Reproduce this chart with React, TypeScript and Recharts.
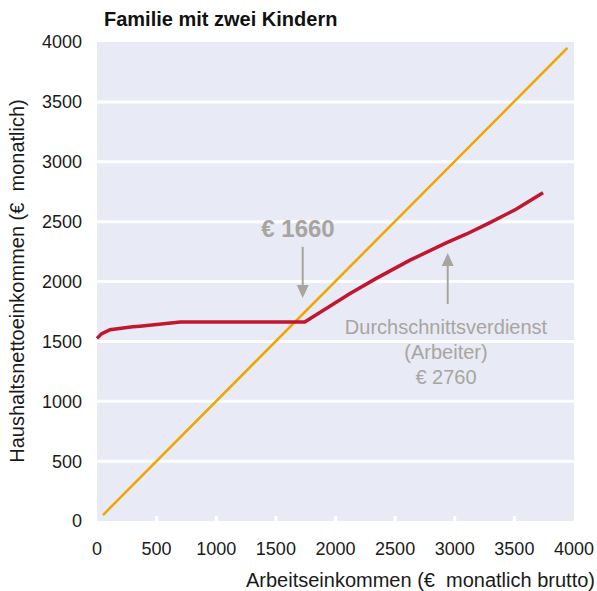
import { ComposedChart, Line, XAxis, YAxis, CartesianGrid, ReferenceLine } from 'recharts';

// Haushaltsnettoeinkommen over Arbeitseinkommen
const netIncome = [
  { x: 0, y: 1525 },
  { x: 40, y: 1565 },
  { x: 110, y: 1598 },
  { x: 220, y: 1612 },
  { x: 300, y: 1622 },
  { x: 360, y: 1627 },
  { x: 500, y: 1640 },
  { x: 700, y: 1662 },
  { x: 1742, y: 1662 },
  { x: 2119, y: 1898 },
  { x: 2342, y: 2026 },
  { x: 2621, y: 2176 },
  { x: 2928, y: 2323 },
  { x: 3095, y: 2395 },
  { x: 3291, y: 2490 },
  { x: 3514, y: 2603 },
  { x: 3740, y: 2742 },
];

// 45-degree reference line (net = gross)
const parity = [
  { x: 50, y: 50 },
  { x: 3945, y: 3950 },
];

const xTicks = [0, 500, 1000, 1500, 2000, 2500, 3000, 3500, 4000];
const yTicks = [0, 500, 1000, 1500, 2000, 2500, 3000, 3500, 4000];
const gridValues = [500, 1000, 1500, 2000, 2500, 3000, 3500];

const FONT = '"Liberation Sans", Arial, sans-serif';
const GRAY = '#a8a5a0';

const XTick = (props: any) => {
  const { x, y, payload } = props;
  const v = payload.value;
  return (
    <g>
      {v > 0 && v < 4000 && (
        <line x1={x} x2={x} y1={y} y2={y - 5} stroke="#fff" strokeWidth={3} />
      )}
      <text x={x} y={y + 34} textAnchor="middle" fontSize={18} fill="#1a1a1a" fontFamily={FONT}>
        {v}
      </text>
    </g>
  );
};

const Arrow = (props: any) => {
  const { x1, y1, x2, y2 } = props;
  const dir = y2 > y1 ? 1 : -1;
  return (
    <g>
      <line x1={x1} y1={y1} x2={x2} y2={y2 - dir * 10} stroke={GRAY} strokeWidth={2} />
      <polygon points={`${x2 - 6},${y2 - dir * 13} ${x2 + 6},${y2 - dir * 13} ${x2},${y2}`} fill={GRAY} />
    </g>
  );
};

export default function App() {
  return (
    <div style={{ position: 'absolute', left: 0, top: 0, width: 597, height: 591, fontFamily: FONT }}>
      <ComposedChart width={597} height={591} margin={{ top: 42, right: 23, bottom: 40, left: 0 }}>
        <CartesianGrid
          horizontal
          vertical={false}
          fill="#e8eaf5"
          stroke="#ffffff"
          strokeWidth={3}
          horizontalValues={gridValues}
        />
        <XAxis
          type="number"
          dataKey="x"
          domain={[0, 4000]}
          ticks={xTicks}
          axisLine={false}
          tickLine={false}
          tickSize={0}
          tickMargin={0}
          height={30}
          tick={<XTick />}
          interval={0}
        />
        <YAxis
          type="number"
          dataKey="y"
          domain={[0, 4000]}
          ticks={yTicks}
          axisLine={false}
          tickLine={false}
          tickSize={0}
          tickMargin={15}
          width={97}
          interval={0}
          tick={{ fontSize: 18, fill: '#1a1a1a', fontFamily: FONT }}
        />
        <Line
          data={parity}
          dataKey="y"
          type="linear"
          stroke="#efa600"
          strokeWidth={2.5}
          dot={false}
          isAnimationActive={false}
        />
        <Line
          data={netIncome}
          dataKey="y"
          type="linear"
          stroke="#c0162f"
          strokeWidth={3.5}
          dot={false}
          isAnimationActive={false}
        />
        <ReferenceLine segment={[{ x: 1725, y: 2290 }, { x: 1725, y: 1862 }]} shape={<Arrow />} />
        <ReferenceLine segment={[{ x: 2941, y: 1812 }, { x: 2941, y: 2238 }]} shape={<Arrow />} />
      </ComposedChart>

      <div style={{ position: 'absolute', left: 104, top: 7, fontSize: 20, fontWeight: 'bold', color: '#111', whiteSpace: 'pre', lineHeight: 1.2 }}>
        Familie mit zwei Kindern
      </div>
      <div
        style={{
          position: 'absolute',
          left: 17,
          top: 281,
          transform: 'translate(-50%, -50%) rotate(-90deg)',
          fontSize: 20,
          color: '#1a1a1a',
          whiteSpace: 'pre',
          lineHeight: 1,
        }}
      >
        Haushaltsnettoeinkommen (€  monatlich)
      </div>
      <div style={{ position: 'absolute', right: 2, top: 570, fontSize: 20, color: '#1a1a1a', whiteSpace: 'pre', lineHeight: 1 }}>
        Arbeitseinkommen (€  monatlich brutto)
      </div>
      <div
        style={{
          position: 'absolute',
          left: 298,
          top: 229,
          transform: 'translate(-50%, -50%)',
          fontSize: 24,
          fontWeight: 'bold',
          color: GRAY,
          whiteSpace: 'pre',
          lineHeight: 1,
        }}
      >
        € 1660
      </div>
      <div
        style={{
          position: 'absolute',
          left: 446,
          top: 315,
          transform: 'translateX(-50%)',
          fontSize: 20,
          color: GRAY,
          textAlign: 'center',
          lineHeight: '25px',
          whiteSpace: 'pre',
        }}
      >
        {'Durchschnittsverdienst\n(Arbeiter)\n€ 2760'}
      </div>
    </div>
  );
}
